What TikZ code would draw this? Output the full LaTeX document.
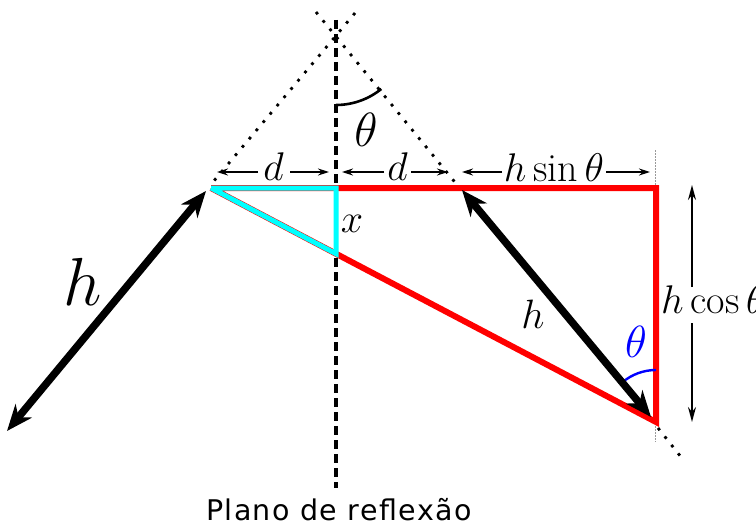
\RequirePackage{fix-cm}
\documentclass[tikz,border=0pt]{standalone}
\usepackage{fontspec}
\newfontfamily\planofont{DejaVu Sans}[LetterSpace=5]
\usetikzlibrary{arrows.meta,calc}
\definecolor{redc}{RGB}{255,0,0}
\definecolor{cyanc}{RGB}{0,255,255}
\definecolor{bluec}{RGB}{0,0,255}
\tikzset{
  lbl/.style={inner sep=0pt, font=\fontsize{40}{44}\selectfont},
  redline/.style={redc, line width=6pt, line join=miter},
  cyanline/.style={cyanc, line width=5pt, line join=miter},
  bigarrow/.style={line width=7.5pt, {Stealth[length=26pt,width=21pt,inset=8pt]}-{Stealth[length=26pt,width=21pt,inset=8pt]}},
  dimarrow/.style={line width=1.3pt, -{Stealth[length=11pt,width=7pt]}},
  vdimarrow/.style={line width=1.6pt, -{Stealth[length=15pt,width=8pt]}},
  dotline/.style={line width=2.8pt, dash pattern=on 2.8pt off 8pt},
  planedash/.style={line width=4pt, dash pattern=on 9pt off 5pt},
  extline/.style={black!40, line width=1pt, dash pattern=on 1.5pt off 1.5pt},
}
\begin{document}
\begin{tikzpicture}[x=1pt,y=-1pt]
\useasboundingbox (0,0) rectangle (756,527);
% key points
\coordinate (A) at (336,33);
\coordinate (L) at (211,188);
\coordinate (M) at (336,188);
\coordinate (T) at (656,188);
\coordinate (C) at (656,422);
\coordinate (X) at ($(L)!0.2809!(C)$);
\coordinate (R) at (458,186);
% dotted construction lines
\coordinate (d1s) at (316,12);
\coordinate (d2s) at (355,13);
\coordinate (d2e) at (213,182);
\coordinate (d3s) at (658,428);
\coordinate (d3e) at (681,457);
\draw[dotline] (d1s) -- (R);
\draw[dotline] (d2s) -- (d2e);
\draw[dotline] (d3s) -- (d3e);
% extension lines
\coordinate (e1) at (655,150);
\coordinate (e2) at (655,185);
\coordinate (e3) at (655,426);
\coordinate (e4) at (655,442);
\draw[extline] (e1) -- (e2);
\draw[extline] (e3) -- (e4);
% plane
\coordinate (P1) at (336,20);
\coordinate (P2) at (336,488);
\draw[planedash] (P1) -- (P2);
\node[inner sep=0pt, anchor=base, font=\planofont\fontsize{28.5}{32}\selectfont] (plano) at (339,520) {Plano de reflexão};
% triangles
\draw[redline] (L) -- (T) -- (C) -- (L);
\draw[cyanline] (L) -- (M) -- (X) -- (L);
% theta arc at apex
\draw[line width=2.6pt] ([shift={(0,72)}]A) arc[start angle=-90, end angle=-51, radius=72pt];
\node[lbl, font=\fontsize{48}{50}\selectfont] (th1) at (366,130) {$\theta$};
% blue theta at C
\draw[bluec, line width=2.4pt] ([shift={(0,-52)}]C) arc[start angle=90, end angle=130, radius=52pt];
\node[lbl, bluec, font=\fontsize{45}{48}\selectfont] (th2) at (636,342) {$\theta$};
% big arrows
\coordinate (hA) at (7,431);
\coordinate (hB) at (206,191);
\coordinate (hC) at (462,190);
\coordinate (hD) at (651,417);
\draw[bigarrow] (hA) -- (hB);
\draw[bigarrow] (hC) -- (hD);
\node[lbl, font=\fontsize{68}{72}\selectfont] (hbig) at (83,282) {$h$};
\node[lbl, font=\fontsize{41}{44}\selectfont] (hsmall) at (533,314) {$h$};
\node[lbl] (xl) at (352,224) {$x$};
% dimension d (left)
\node[lbl] (d1) at (273.5,167) {$d$};
\coordinate (d1a) at (258,172);
\coordinate (d1b) at (217,172);
\coordinate (d1c) at (290,172);
\coordinate (d1d) at (329,172);
\draw[dimarrow] (d1a) -- (d1b);
\draw[dimarrow] (d1c) -- (d1d);
% dimension d (right)
\node[lbl] (d2) at (397.5,167) {$d$};
\coordinate (d2a) at (384,172);
\coordinate (d2b) at (342,172);
\coordinate (d2c) at (411,172);
\coordinate (d2d) at (448,172);
\draw[dimarrow] (d2a) -- (d2b);
\draw[dimarrow] (d2c) -- (d2d);
% h sin theta
\node[lbl] (hs) at (554,167.5) {$h\sin\theta$};
\coordinate (hsa) at (502,172);
\coordinate (hsb) at (462,172);
\coordinate (hsc) at (606,172);
\coordinate (hsd) at (650,172);
\draw[dimarrow] (hsa) -- (hsb);
\draw[dimarrow] (hsc) -- (hsd);
% h cos theta
\node[lbl, anchor=west] (hc) at (661,300) {$h\cos\theta$};
\coordinate (hca) at (692,287);
\coordinate (hcb) at (692,185);
\coordinate (hcc) at (692,323);
\coordinate (hcd) at (692,422);
\draw[vdimarrow] (hca) -- (hcb);
\draw[vdimarrow] (hcc) -- (hcd);
\end{tikzpicture}
\end{document}
